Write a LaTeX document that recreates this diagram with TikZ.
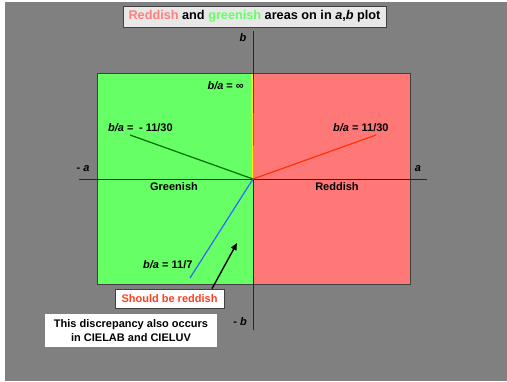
\documentclass[tikz,border=0pt]{standalone}
\usepackage{fontspec}
\setmainfont{Liberation Sans}
\usetikzlibrary{positioning,arrows.meta}
\definecolor{bggray}{HTML}{808080}
\definecolor{greenish}{HTML}{66FF66}
\definecolor{reddish}{HTML}{FF7878}
\definecolor{titlered}{HTML}{FF8080}
\definecolor{edgegray}{HTML}{404040}
\definecolor{darkgreenray}{HTML}{007000}
\definecolor{redray}{HTML}{FF3300}
\definecolor{blueray}{HTML}{3366FF}
\definecolor{warnred}{HTML}{FF4020}

\begin{document}
\begin{tikzpicture}[x=1pt, y=-1pt, font=\fontsize{11}{14}\selectfont\bfseries,
        axis/.style={draw=black!85, line width=1pt},
        ray/.style={line width=1.2pt},
        pointer/.style={line width=1.4pt, -{Triangle[length=7pt,width=6pt]}},
        box/.style={draw=edgegray, line width=0.7pt, fill=white, inner sep=0pt}]
        \useasboundingbox (0,0) rectangle (507,381);
        \fill[bggray] (5,2) rectangle (507,381);

        % the two halves of the plane
        \filldraw[fill=greenish, draw=edgegray, line width=0.7pt] (97,73) rectangle (253,284);
        \filldraw[fill=reddish, draw=edgegray, line width=0.7pt] (253,73) rectangle (410,284);

        \coordinate (o) at (253,179);
        \coordinate (aleft) at (79,179);
        \coordinate (aright) at (427,179);
        \coordinate (btop) at (253,31);
        \coordinate (bbot) at (253,330);
        \coordinate (inf) at (252.2,74);
        \coordinate (neg) at (130,135);
        \coordinate (pos) at (376,135);
        \coordinate (steep) at (190,278);
        \coordinate (tip) at (237,243);

        \draw[axis] (aleft) -- (aright);
        \draw[axis] (btop) -- (bbot);

        \path[ray]
            (o) edge[yellow, line width=1.5pt] (inf)
                edge[darkgreenray] (neg)
                edge[redray] (pos)
                edge[blueray] (steep);

        \node[box, fill=black!9, minimum width=263pt, minimum height=21pt,
            font=\fontsize{12.7}{15}\selectfont\bfseries] (title) at (254.5,16.5)
            {\textcolor{titlered}{Reddish} and \textcolor{greenish}{greenish} areas on in \textit{a},\textit{b} plot};

        \node (bplus) at (243,38) {\textit{b}};
        \node (bminus) at (240,322) {- \textit{b}};
        \node (aminus) at (83,169) {- \textit{a}};
        \node (aplus) at (418,169) {\textit{a}};

        \node[anchor=east, inner sep=0pt] (lblinf) at (244,86) {\textit{b/a} = ∞};
        \node[anchor=west, inner sep=0pt] (lblneg) at (108,128) {\textit{b/a} =\enspace- 11/30};
        \node[anchor=west, inner sep=0pt] (lblpos) at (333,128) {\textit{b/a} = 11/30};
        \node[anchor=west, inner sep=0pt] (lblsteep) at (143,265) {\textit{b/a} = 11/7};

        \node (green) at (174,187) {Greenish};
        \node (red) at (337,187) {Reddish};

        \node[box, text=warnred, minimum width=109pt, minimum height=19pt] (should) at (169.5,298.5) {Should be reddish};
        \node[box, draw=none, align=center, minimum width=172pt, minimum height=33pt]
            (note) at (131,330.5) {This discrepancy also occurs\\in CIELAB and CIELUV};

        \draw[pointer] ([xshift=42.5pt]should.north) -- (tip);
    \end{tikzpicture}
\end{document}
